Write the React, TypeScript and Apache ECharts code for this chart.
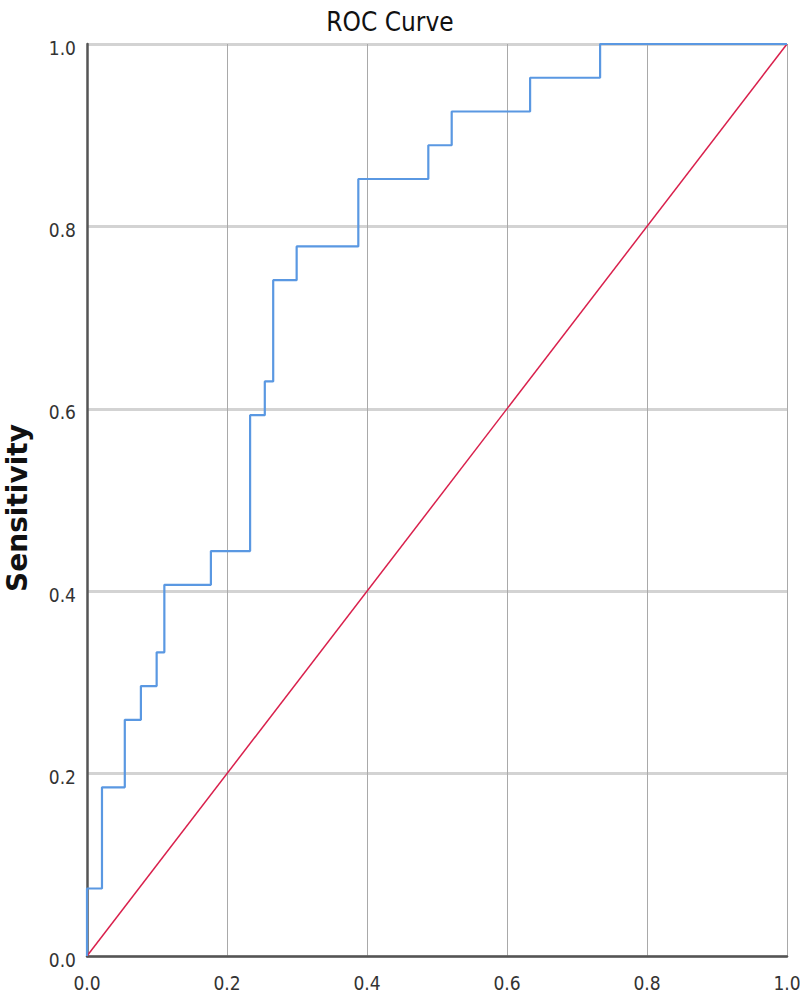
import React, { useEffect, useRef } from "react";
import * as echarts from "echarts";

// ROC step curve breakpoints (1 - Specificity, Sensitivity)
const fpr = [0, 0.0214, 0.054, 0.077, 0.0995, 0.1105, 0.177, 0.233, 0.254, 0.266, 0.2995, 0.3876, 0.4876, 0.521, 0.633, 0.733, 1.0];
const tpr = [0.074, 0.185, 0.259, 0.296, 0.333, 0.407, 0.444, 0.593, 0.63, 0.741, 0.778, 0.852, 0.889, 0.926, 0.963, 1.0, 1.0];
const reference = [[0, 0], [1, 1]];
const tickValues = [0, 0.2, 0.4, 0.6, 0.8, 1.0];

function buildSteps(): number[][] {
  const pts: number[][] = [[0, 0]];
  let prevY = 0;
  for (let i = 0; i < fpr.length; i++) {
    pts.push([fpr[i], prevY]);
    pts.push([fpr[i], tpr[i]]);
    prevY = tpr[i];
  }
  return pts;
}

export default function App() {
  const ref = useRef<HTMLDivElement>(null);
  useEffect(() => {
    if (!ref.current) return;
    const chart = echarts.init(ref.current, null, { renderer: "svg" });
    const font = "'DejaVu Sans Condensed', 'DejaVu Sans'";
    chart.setOption({
      animation: false,
      backgroundColor: "#ffffff",
      title: {
        text: "ROC Curve",
        left: 385,
        top: 4,
        textAlign: "center",
        textStyle: { fontFamily: font, fontSize: 26, fontWeight: "normal", color: "#111" },
      },
      graphic: [
        {
          type: "text",
          x: 17,
          y: 508,
          rotation: Math.PI / 2,
          style: {
            text: "Sensitivity",
            fontFamily: "DejaVu Sans",
            fontSize: 28,
            fontWeight: "bold",
            fill: "#111",
            textAlign: "center",
            textVerticalAlign: "middle",
          },
        },
      ],
      grid: { left: 87, right: 13, top: 44, bottom: 37, containLabel: false, outerBoundsMode: "none" },
      xAxis: {
        type: "value",
        min: 0,
        max: 1,
        interval: 0.2,
        axisLine: { show: true, lineStyle: { color: "#555", width: 2.5 } },
        axisTick: { show: false },
        axisLabel: {
          margin: 17,
          fontFamily: font,
          fontSize: 19,
          color: "#333",
          formatter: (v: number) => (tickValues.some((t) => Math.abs(t - v) < 1e-9) ? v.toFixed(1) : ""),
        },
        splitLine: { show: true, lineStyle: { color: "#a9a9a9", width: 1 } },
      },
      yAxis: {
        type: "value",
        min: 0,
        max: 1,
        interval: 0.2,
        axisLine: { show: true, lineStyle: { color: "#555", width: 2.5 } },
        axisTick: { show: false },
        axisLabel: {
          margin: 11,
          fontFamily: font,
          fontSize: 19,
          color: "#333",
          verticalAlign: "top",
          padding: [-6, 0, 0, 0],
          formatter: (v: number) => v.toFixed(1),
        },
        splitLine: { show: true, lineStyle: { color: "#d3d3d3", width: 3 } },
      },
      series: [
        {
          type: "line",
          data: reference,
          symbol: "none",
          lineStyle: { color: "#d9204c", width: 1.5 },
          z: 3,
        },
        {
          type: "line",
          data: buildSteps(),
          symbol: "none",
          lineStyle: { color: "#5a98e2", width: 2.2 },
          z: 4,
        },
      ],
    });
    return () => chart.dispose();
  }, []);
  return <div ref={ref} style={{ width: 800, height: 993, position: "absolute", left: 0, top: 0 }} />;
}
